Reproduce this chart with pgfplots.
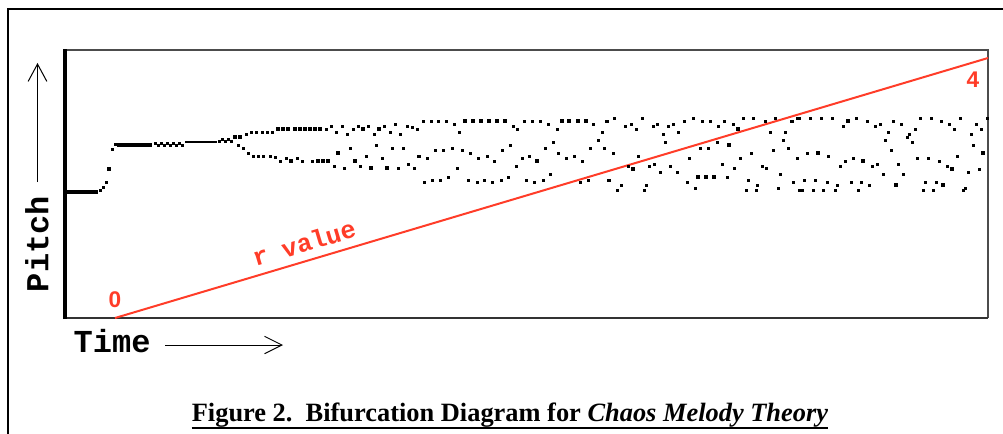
\documentclass[border=0pt]{standalone}
\usepackage{fontspec}
\setmainfont{Liberation Serif}
\newfontfamily\monofont{Liberation Mono}
\newfontfamily\arialfont{Liberation Sans}
\usepackage{pgfplots}
\pgfplotsset{compat=1.18}
\usetikzlibrary{arrows.meta}
\definecolor{rline}{RGB}{255,60,40}
\begin{document}
\begin{tikzpicture}
\begin{scope}[x=0.75pt,y=0.75pt]
\path[use as bounding box] (0,0) rectangle (1003,433);
\draw[line width=1.5pt] (8,-5) -- (8,424) -- (1010,424);
\end{scope}
\begin{axis}[
  at={(48.75pt,86.25pt)}, anchor=south west,
  scale only axis, width=692.25pt, height=201pt,
  xmin=65, xmax=988, ymin=50, ymax=318, y dir=reverse,
  xtick=\empty, ytick=\empty,
  axis line style={draw=none},
  clip=false,
]
% axis box
\draw[line width=1.5pt, black!70] (rel axis cs:0,1) -- (rel axis cs:1,1) -- (rel axis cs:1,0);
\draw[line width=1.5pt, black!80] (rel axis cs:0,0) -- (rel axis cs:1,0);
\draw[line width=2.3pt, black] (rel axis cs:0,-0.004) -- (rel axis cs:0,1.004);
% red r line
\addplot[rline, line width=1.5pt] coordinates {(115,318) (988,58)};
\node[rline, font=\arialfont\bfseries\fontsize{17}{17}\selectfont] at (axis cs:115,300) {0};
\node[rline, font=\arialfont\bfseries\fontsize{17}{17}\selectfont] at (axis cs:973,80) {4};
\node[rline, font=\monofont\bfseries\fontsize{19}{19}\selectfont, rotate=16.6] at (axis cs:304,243) {r value};
% early fixed points
\addplot[black, line width=2.4pt] coordinates {(66,192) (98,192)};
\addplot[black, line width=2.4pt] coordinates {(117,145) (152,145)};
\addplot[black, line width=0.9pt] coordinates {(185,142) (217,142)};
% small dots
\addplot[only marks, mark=square*, mark size=0.75pt, black] coordinates {
(100,190) (103,187) (106,182) (112,149) (115,144)
(155,143) (158,145) (161,143) (164,145) (167,143) (170,145) (173,143) (176,145) (179,143) (182,145)
(219,141) (222,139) (225,141) (228,139) (231,141)
(238,145) (243,148) (248,153)
(246,134) (251,132) (256,132) (262,132) (267,132) (272,132)
(253,156) (258,156) (263,156) (270,156) (275,157) (280,161) (286,158) (297,158) (302,161) (312,161)
(326,129) (331,126) (336,132) (342,126) (347,134) (353,129) (358,126) (368,126) (374,134) (384,126)
(390,132) (395,124) (400,134) (407,126) (412,127) (417,129)
(334,166) (344,168) (350,148) (360,166) (366,156) (376,145) (382,158) (392,148) (398,168) (403,148)
(408,164) (414,168) (418,156)
(423,121) (431,121) (438,121) (446,121) (454,124) (459,132) (513,126) (517,129) (524,121) (532,121)
(540,121) (548,124) (557,129) (593,124) (602,132) (607,121)
(419,156) (427,158) (435,150) (443,150) (452,148) (462,150) (470,153) (478,158) (487,156) (494,161)
(502,150) (510,145) (516,166) (522,158) (529,156) (545,148) (553,142) (558,153) (566,158) (574,156)
(582,161) (590,148) (598,140) (604,148)
(424,182) (432,180) (440,180) (448,177) (457,168) (468,180) (477,182) (484,180) (492,182) (501,180)
(508,177) (526,180) (534,182) (543,180) (550,174) (580,182) (588,180) (608,180)
(606,121) (614,118) (613,153) (625,126) (631,124) (636,129) (642,118) (653,126) (657,124) (663,134)
(668,126) (673,124) (678,132) (684,121) (693,118) (702,121) (710,121) (718,126) (724,121) (733,124)
(743,118) (753,118) (765,121) (770,132) (775,118) (783,140) (785,132) (791,121) (797,118)
(665,142) (689,158) (700,148) (708,148) (717,142) (740,158) (751,153) (773,150) (788,148) (797,158)
(638,156) (628,166) (649,166) (654,164) (660,172) (670,166) (677,172) (722,164) (734,168) (762,166)
(766,168) (780,174)
(609,180) (621,185) (617,190) (646,185) (644,190) (687,182) (695,188) (727,177) (748,180) (746,190)
(757,185) (756,190) (778,188) (793,182) (799,190)
(792,121) (799,118) (810,118) (821,118) (832,118) (843,126) (856,118) (867,121) (875,126) (880,124)
(888,132) (893,121) (901,124) (915,129) (920,118) (931,118) (941,121) (949,124) (954,129) (960,118)
(971,134) (976,124) (981,129) (987,118)
(885,140) (891,150) (907,137) (909,134) (912,142) (973,145)
(807,153) (828,156) (840,166) (845,161) (853,158) (872,166) (877,164) (883,174) (898,164) (903,174)
(917,158) (928,158) (939,161) (947,166) (957,156) (968,172) (979,169)
(804,180) (815,180) (827,182) (837,185) (851,182) (861,182) (869,185) (925,182) (936,182)
(802,190) (813,190) (823,190) (835,190) (858,190) (923,190) (933,190) (963,190) (965,188)
};
% medium dots
\addplot[only marks, mark=square*, mark size=0.95pt, black] coordinates {
(278,129) (283,129) (288,129) (295,129) (300,129) (305,129) (310,129) (315,129) (320,129)
(318,161) (323,161) (328,161)
};
% big dots
\addplot[only marks, mark=square*, mark size=1.3pt, black] coordinates {
(109,169) (235,137) (240,137) (291,161) (338,153) (355,161) (363,129) (371,168) (379,129) (387,168)
(465,121) (473,121) (481,121) (489,121) (497,121) (505,121) (537,161) (562,121) (569,121) (578,121)
(586,121) (633,169) (729,145) (738,129) (698,177) (706,177) (714,177) (848,121) (818,153) (863,161)
(896,185) (943,185) (952,169) (983,153)
};
\end{axis}
\begin{scope}[x=0.75pt,y=0.75pt]
\node[font=\monofont\bfseries\fontsize{24}{24}\selectfont, rotate=90] at (37,189) {Pitch};
\draw[line width=0.75pt, -{Straight Barb[length=13pt,width=14pt]}] (37.5,251) -- (37.5,370);
\node[font=\monofont\bfseries\fontsize{24}{24}\selectfont, anchor=base west] at (69,81) {Time};
\draw[line width=0.75pt, -{Straight Barb[length=13pt,width=13pt]}] (165,88) -- (283,88);
\node[font=\fontsize{19.8}{21}\selectfont, anchor=base, inner sep=0pt] (cap) at (510,12) {\textbf{Figure 2.\ \ Bifurcation Diagram for \textit{Chaos Melody Theory}}};
\draw[line width=1.5pt] ([yshift=-5pt]cap.base west) -- ([yshift=-5pt]cap.base east);
\end{scope}
\end{tikzpicture}
\end{document}
